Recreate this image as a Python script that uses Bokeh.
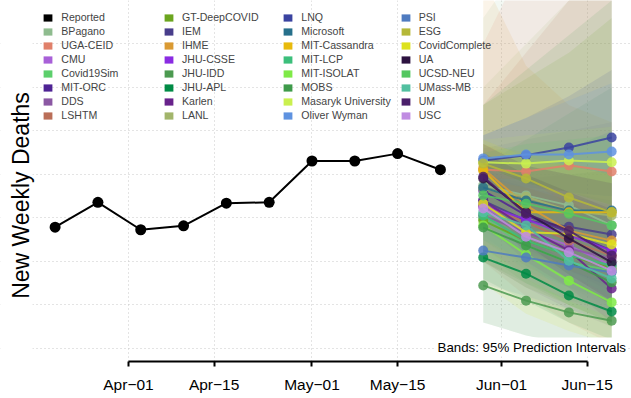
import pandas as pd
from bokeh.plotting import figure
from bokeh.models import (Range1d, FixedTicker, DatetimeTickFormatter, Legend, LegendItem, Label,
                          BoxAnnotation)
from bokeh.embed import file_html
from bokeh.resources import INLINE

# ---------------- data ----------------
report_dates = ["2021-03-20", "2021-03-27", "2021-04-03", "2021-04-10", "2021-04-17",
                "2021-04-24", "2021-05-01", "2021-05-08", "2021-05-15", "2021-05-22"]
reported = [279, 336, 273, 282, 334, 336, 431, 431, 448, 411]

forecast_dates = ["2021-05-29", "2021-06-05", "2021-06-12", "2021-06-19"]

tick_dates = ["2021-04-01", "2021-04-15", "2021-05-01", "2021-05-15", "2021-06-01", "2021-06-15"]
y_grid = [0, 100, 200, 300, 400, 500, 600, 700, 800]

models = ["BPagano", "UGA-CEID", "CMU", "Covid19Sim", "MIT-ORC", "DDS", "LSHTM",
          "GT-DeepCOVID", "IEM", "IHME", "JHU-CSSE", "JHU-IDD", "JHU-APL", "Karlen", "LANL",
          "LNQ", "Microsoft", "MIT-Cassandra", "MIT-LCP", "MIT-ISOLAT", "MOBS",
          "Masaryk University", "Oliver Wyman",
          "PSI", "ESG", "CovidComplete", "UA", "UCSD-NEU", "UMass-MB", "UM", "USC"]

colors = ["#8FBC8F", "#E0806A", "#A860D8", "#5CCF6C", "#4E2394", "#8B58A3", "#BA6E58",
          "#6BA51F", "#483D8B", "#DA9A33", "#8A2BE2", "#4C9A50", "#008B45", "#68228B", "#A2B56B",
          "#3A43A0", "#27708B", "#E8BA0C", "#3CBF7B", "#7FEA47", "#3E9A4A",
          "#CAF04F", "#5E92E0",
          "#4F7BC0", "#B5B838", "#DDE21D", "#2C1240", "#53C760", "#52C0A0", "#4A1F6A", "#C08CE2"]

median = {
    "BPagano": [375, 352, 329, 283],
    "UGA-CEID": [411, 407, 421, 407],
    "CMU": [326, 271, 237, 191],
    "Covid19Sim": [299, 237, 198, 179],
    "MIT-ORC": [363, 306, 267, 225],
    "DDS": [306, 267, 230, 207],
    "LSHTM": [329, 290, 248, 214],
    "GT-DeepCOVID": [294, 248, 214, 184],
    "IEM": [340, 294, 280, 262],
    "IHME": [414, 329, 271, 248],
    "JHU-CSSE": [329, 297, 260, 225],
    "JHU-IDD": [145, 110, 83, 64],
    "JHU-APL": [209, 172, 122, 85],
    "Karlen": [340, 278, 225, 138],
    "LANL": [368, 349, 317, 306],
    "LNQ": [432, 444, 462, 485],
    "Microsoft": [370, 340, 317, 317],
    "MIT-Cassandra": [409, 313, 313, 313],
    "MIT-LCP": [306, 248, 214, 191],
    "MIT-ISOLAT": [283, 216, 156, 106],
    "MOBS": [278, 237, 198, 152],
    "Masaryk University": [428, 425, 432, 428],
    "Oliver Wyman": [437, 446, 446, 453],
    "PSI": [225, 209, 191, 175],
    "ESG": [425, 391, 347, 313],
    "CovidComplete": [333, 267, 264, 239],
    "UA": [391, 313, 253, 198],
    "UCSD-NEU": [352, 333, 310, 283],
    "UMass-MB": [313, 283, 202, 161],
    "UM": [395, 310, 271, 214],
    "USC": [322, 257, 221, 179],
}

lower95 = {
    "BPagano": [60, 30, 10, 0],
    "UGA-CEID": [200, 120, 60, 10],
    "CMU": [260, 190, 140, 90],
    "Covid19Sim": [220, 150, 110, 90],
    "MIT-ORC": [300, 230, 180, 130],
    "DDS": [200, 140, 90, 50],
    "LSHTM": [230, 170, 120, 80],
    "GT-DeepCOVID": [200, 140, 100, 60],
    "IEM": [280, 220, 190, 160],
    "IHME": [370, 270, 200, 160],
    "JHU-CSSE": [280, 230, 180, 140],
    "JHU-IDD": [60, 30, 10, 0],
    "JHU-APL": [160, 110, 60, 20],
    "Karlen": [290, 200, 140, 60],
    "LANL": [250, 190, 140, 100],
    "LNQ": [380, 370, 360, 350],
    "Microsoft": [320, 260, 220, 190],
    "MIT-Cassandra": [330, 220, 180, 150],
    "MIT-LCP": [250, 180, 140, 110],
    "MIT-ISOLAT": [230, 160, 100, 50],
    "MOBS": [200, 150, 100, 60],
    "Masaryk University": [300, 250, 200, 160],
    "Oliver Wyman": [390, 370, 340, 320],
    "PSI": [150, 120, 90, 60],
    "ESG": [360, 300, 240, 190],
    "CovidComplete": [150, 80, 40, 10],
    "UA": [330, 240, 170, 110],
    "UCSD-NEU": [270, 220, 170, 120],
    "UMass-MB": [250, 200, 120, 80],
    "UM": [320, 220, 160, 100],
    "USC": [240, 160, 110, 70],
}

upper95 = {
    "BPagano": [760, 900, 1050, 1200],
    "UGA-CEID": [700, 900, 1100, 1400],
    "CMU": [400, 380, 360, 340],
    "Covid19Sim": [390, 350, 330, 320],
    "MIT-ORC": [440, 420, 400, 380],
    "DDS": [460, 480, 500, 520],
    "LSHTM": [560, 680, 800, 950],
    "GT-DeepCOVID": [560, 620, 680, 760],
    "IEM": [410, 390, 400, 410],
    "IHME": [850, 650, 560, 520],
    "JHU-CSSE": [380, 370, 350, 330],
    "JHU-IDD": [420, 480, 540, 600],
    "JHU-APL": [270, 250, 220, 190],
    "Karlen": [400, 370, 340, 280],
    "LANL": [600, 700, 800, 900],
    "LNQ": [490, 530, 580, 640],
    "Microsoft": [430, 440, 460, 500],
    "MIT-Cassandra": [470, 430, 420, 410],
    "MIT-LCP": [370, 340, 320, 310],
    "MIT-ISOLAT": [340, 290, 240, 190],
    "MOBS": [560, 640, 720, 800],
    "Masaryk University": [480, 490, 500, 510],
    "Oliver Wyman": [490, 530, 570, 610],
    "PSI": [310, 310, 310, 310],
    "ESG": [470, 450, 420, 400],
    "CovidComplete": [480, 440, 420, 400],
    "UA": [450, 400, 360, 320],
    "UCSD-NEU": [450, 470, 480, 490],
    "UMass-MB": [390, 390, 330, 300],
    "UM": [470, 420, 400, 380],
    "USC": [420, 380, 360, 330],
}

# ---------------- figure ----------------
rd = pd.to_datetime(report_dates)
fd = pd.to_datetime(forecast_dates)
ticks = pd.to_datetime(tick_dates)

W, H = 631, 398
px_per_day = 6.116
first_tick_px = 128          # horizontal pixel of the first tick
plot_left_px = 32            # left edge of the plotting region (grid start)
x_start = ticks[0] - pd.Timedelta(days=first_tick_px / px_per_day)
x_end = x_start + pd.Timedelta(days=W / px_per_day)
region_left = x_start + pd.Timedelta(days=plot_left_px / px_per_day)

FONT = "Liberation Sans"

p = figure(width=W, height=H, x_axis_type="datetime",
           x_range=Range1d(x_start, x_end), y_range=Range1d(-29.9, 800),
           output_backend="svg", toolbar_location=None,
           min_border_left=0, min_border_right=0, min_border_top=0, min_border_bottom=37)
p.outline_line_color = None
p.background_fill_color = "white"
p.border_fill_color = "white"

tick_ms = [t.timestamp() * 1000 for t in ticks]
p.xaxis.ticker = FixedTicker(ticks=tick_ms)
fmt = "%b\u2212%d"
p.xaxis.formatter = DatetimeTickFormatter(milliseconds=fmt, seconds=fmt, minsec=fmt, minutes=fmt,
                                          hourmin=fmt, hours=fmt, days=fmt, months=fmt, years=fmt)
p.xaxis.bounds = (ticks[0], ticks[-1])
p.xaxis.axis_line_width = 2
p.xaxis.major_tick_line_width = 2
p.xaxis.major_tick_out = 5
p.xaxis.major_tick_in = 0
p.xaxis.minor_tick_line_color = None
p.xaxis.major_label_standoff = 9
p.xaxis.major_label_text_font = FONT
p.xaxis.major_label_text_font_size = "15.5px"
p.xaxis.major_label_text_color = "black"
p.xaxis.axis_line_color = "black"
p.xaxis.major_tick_line_color = "black"

p.yaxis.visible = False
p.xgrid.ticker = FixedTicker(ticks=tick_ms)
p.ygrid.ticker = FixedTicker(ticks=y_grid)
for g in (p.xgrid, p.ygrid):
    g.grid_line_color = "#c8c8c8"
    g.grid_line_dash = "1 3"
    g.grid_line_width = 1

# blank margin left of the plotting region (where the y label sits)
p.add_layout(BoxAnnotation(right=region_left, fill_color="white", fill_alpha=1.0,
                           line_color=None, level="underlay"))

# prediction bands
for m, c in zip(models, colors):
    p.varea(x=fd, y1=lower95[m], y2=upper95[m], fill_color=c, fill_alpha=0.11)

# forecasts
for m, c in zip(models, colors):
    p.line(fd, median[m], line_color=c, line_width=2, line_alpha=0.85)
    p.scatter(fd, median[m], size=10, fill_color=c, line_color=None, fill_alpha=0.85)

# reported
p.line(rd, reported, line_color="black", line_width=2)
p.scatter(rd, reported, size=11, fill_color="black", line_color=None)

# legend (4 columns of 8); legend-only renderers hold a single undrawn (NaN) point
names = ["Reported"] + models
cols = ["#000000"] + colors
items = []
nan = float("nan")
for n, c in zip(names, cols):
    r = p.rect(x=[nan], y=[nan], width=1, height=1, fill_color=c, line_color=None)
    items.append(LegendItem(label=n, renderers=[r]))

col_x = [42.3, 163, 282.3, 399.7]
for k in range(4):
    leg = Legend(items=items[k * 8:(k + 1) * 8], location=(col_x[k], 239.7),
                 label_text_font=FONT, label_text_font_size="10.6px",
                 glyph_width=11, glyph_height=9, label_height=12, label_standoff=8,
                 spacing=2, padding=0, margin=0, border_line_color=None,
                 background_fill_alpha=0)
    p.add_layout(leg, "center")

# y label
p.add_layout(Label(x=20, y=166, x_units="screen", y_units="screen",
                   text="New Weekly Deaths", angle=90, angle_units="deg",
                   text_align="center", text_baseline="middle",
                   text_font=FONT, text_font_size="23px", text_color="black"))

# bands note
p.add_layout(Label(x=627.5, y=14.5, x_units="screen", y_units="screen",
                   text="Bands: 95% Prediction Intervals",
                   text_align="right", text_baseline="middle",
                   text_font=FONT, text_font_size="13.3px", text_color="black",
                   background_fill_color="white", padding=2))

open("out.html", "w").write(file_html(p, INLINE))
